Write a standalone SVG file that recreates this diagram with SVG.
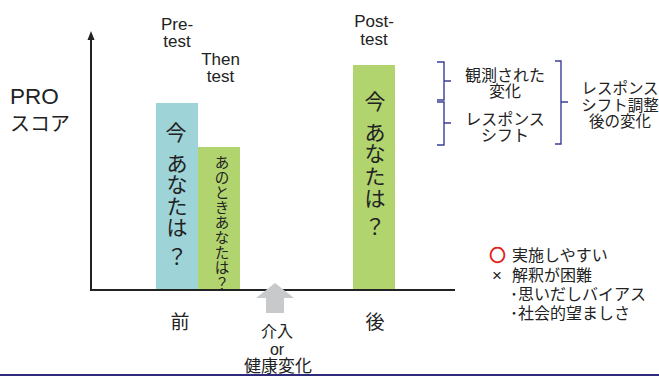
<svg xmlns="http://www.w3.org/2000/svg" width="659" height="376" viewBox="0 0 659 376">
<defs>
<style>
text{font-family:"Liberation Sans","Noto Sans CJK JP",sans-serif;fill:#222;}
.lat{font-size:17px;text-anchor:middle;}
.big{font-size:21px;text-anchor:middle;}
.sm{font-size:14.5px;text-anchor:middle;}
.jp{font-size:16px;}
.mid{text-anchor:middle;}
.br{fill:none;stroke:#3b3f96;stroke-width:1.4;}
.ax{stroke:#222;stroke-width:2;fill:none;}
</style>
<clipPath id="gclip"><rect x="198" y="147" width="42" height="142"/></clipPath>
</defs>
<rect width="659" height="376" fill="#fff"/>

<g id="axes">
<line class="ax" x1="91" y1="290" x2="91" y2="36"/>
<path d="M87.5,40 L91,31 L94.5,40 Z" fill="#222"/>
<line class="ax" x1="90" y1="290" x2="455" y2="290"/>
</g>

<g id="ylabel">
<text x="10" y="104" style="font-size:22.5px">PRO</text>
<text x="10" y="131" style="font-size:20px">スコア</text>
</g>

<g id="pre">
<rect x="156" y="103" width="42" height="186" fill="#9ed3d8"/>
<text class="lat" x="177" y="29.5">Pre-</text>
<text class="lat" x="177" y="47">test</text>
<text class="big" x="176" y="140">今</text>
<text class="big" x="177" y="170.5">あ</text>
<text class="big" x="177" y="192">な</text>
<text class="big" x="177" y="213.5">た</text>
<text class="big" x="177" y="235">は</text>
<text class="big" x="177" y="263.5">？</text>
<text class="mid" x="180" y="329" style="font-size:19px">前</text>
</g>

<g id="then">
<rect x="198" y="147" width="42" height="142" fill="#b1d46f"/>
<text class="lat" x="220.5" y="64.5">Then</text>
<text class="lat" x="220.5" y="82">test</text>
<g clip-path="url(#gclip)">
<text class="sm" x="222" y="167.5">あ</text>
<text class="sm" x="222" y="182.5">の</text>
<text class="sm" x="222" y="197.5">と</text>
<text class="sm" x="222" y="212.5">き</text>
<text class="sm" x="222" y="227.5">あ</text>
<text class="sm" x="222" y="243">な</text>
<text class="sm" x="222" y="258">た</text>
<text class="sm" x="222" y="273">は</text>
<text class="sm" x="222" y="289">？</text>
</g>
</g>

<g id="post">
<rect x="353" y="65" width="42" height="224" fill="#b1d46f"/>
<text class="lat" x="374" y="26.5">Post-</text>
<text class="lat" x="374" y="45">test</text>
<text class="big" x="375" y="108.5">今</text>
<text class="big" x="375" y="139.5">あ</text>
<text class="big" x="375" y="161">な</text>
<text class="big" x="375" y="183.5">た</text>
<text class="big" x="375" y="205.5">は</text>
<text class="big" x="375" y="233.5">？</text>
<text class="mid" x="375" y="329" style="font-size:19px">後</text>
</g>

<g id="intervention">
<path d="M275,283 L294,298 L284,298 L284,313 L266,313 L266,298 L256,298 Z" fill="#c8c9cb"/>
<text class="mid" x="277" y="337" style="font-size:16px">介入</text>
<text class="mid" x="277" y="355" style="font-size:16px">or</text>
<text class="mid" x="278" y="372" style="font-size:17px">健康変化</text>
</g>

<g id="connectors">
<path class="br" d="M437,62 L444,62 L444,81 L451,81 M444,81 L444,100 L437,100"/>
<path class="br" d="M437,102 L444,102 L444,123 L451,123 M444,123 L444,145 L437,145"/>
<path class="br" d="M555,61 L561,61 L561,102 L568,102 M561,102 L561,144 L555,144"/>
</g>

<g id="observed">
<text class="jp mid" x="505" y="81">観測された</text>
<text class="jp mid" x="505" y="97">変化</text>
</g>
<g id="shift">
<text class="jp mid" x="505" y="125">レスポンス</text>
<text class="jp mid" x="505" y="141">シフト</text>
</g>
<g id="adjusted">
<text class="mid" x="620" y="94" style="font-size:15.5px">レスポンス</text>
<text class="mid" x="620" y="110.5" style="font-size:15.5px">シフト調整</text>
<text class="mid" x="620" y="127" style="font-size:15.5px">後の変化</text>
</g>

<g id="notes">
<text class="jp" y="261"><tspan x="489.5" style="fill:#e2231a;stroke:#e2231a;stroke-width:1;font-family:'Noto Sans CJK JP',sans-serif;font-weight:bold">○ </tspan><tspan x="512">実施しやすい</tspan></text>
<text class="jp" y="280.5"><tspan x="492" style="font-size:17px">× </tspan><tspan x="512">解釈が困難</tspan></text>
<text class="jp" x="510" y="299.5">･思いだしバイアス</text>
<text class="jp" x="510" y="319">･社会的望ましさ</text>
</g>

<rect id="bottomline" x="0" y="374" width="659" height="2" fill="#2f2a7c"/>
</svg>
